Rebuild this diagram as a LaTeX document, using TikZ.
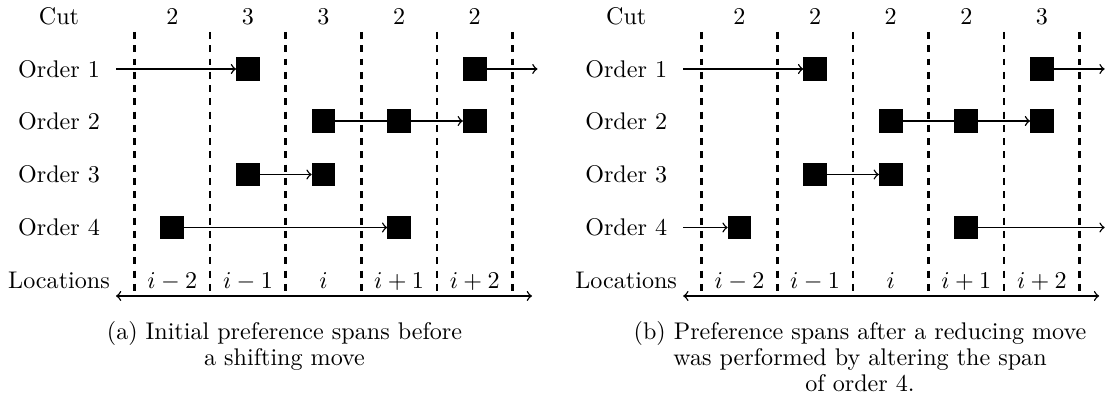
\documentclass[tikz,border=0pt]{standalone}
\begin{document}
\begin{tikzpicture}[x=0.415pt,y=-0.415pt,
  lbl/.style={font=\fontsize{10}{12}\selectfont, inner sep=0pt, anchor=base},
  captext/.style={font=\fontsize{10}{10.8}\selectfont, inner sep=0pt, anchor=north, align=center},
  blk/.style={fill=black, draw=black, minimum size=9.4pt, inner sep=0pt},
  cutline/.style={line width=1.1pt, dash pattern=on 2.9pt off 2.6pt},
  span/.style={->, line width=0.6pt},
  axisline/.style={<->, line width=0.6pt}]
\useasboundingbox (0,0) rectangle (1114,404);

% common frame of both panels
\foreach \p/\sh in {a/0, b/567.2}{
  \begin{scope}[shift={(\sh,0)}]
    \node[lbl] (\p-cut) at (59,25) {Cut};
    \foreach \r/\ry in {1/69, 2/121, 3/174.5, 4/227.5}{
      \node[lbl] (\p-ord\r) at (59,\ry+8.3) {Order \r};
    }
    \node[lbl] (\p-loc) at (59,289) {Locations};
    \foreach \k in {0,...,5}{
      \coordinate (\p-t\k) at (134.5+75.6*\k,32);
      \coordinate (\p-b\k) at (134.5+75.6*\k,296);
      \draw[cutline] (\p-t\k) -- (\p-b\k);
    }
    \foreach \k/\t in {1/i-2, 2/i-1, 3/i, 4/i+1, 5/i+2}{
      \node[lbl] (\p-l\k) at (134.5+75.6*\k-37.8,289) {$\t$};
    }
    \coordinate (\p-axl) at (116,296);
    \coordinate (\p-axr) at (532,296);
    \draw[axisline] (\p-axl) -- (\p-axr);
    \coordinate (\p-in1) at (116,69);
    \coordinate (\p-out1) at (537.5,69);
    \coordinate (\p-in4) at (116,227.5);
    \coordinate (\p-out4) at (537.5,227.5);
  \end{scope}
}

% cut values
\foreach \k/\v in {1/2, 2/3, 3/3, 4/2, 5/2}{
  \node[lbl] (a-c\k) at (134.5+75.6*\k-37.8,25) {\v};
}
\foreach \k/\v in {1/2, 2/2, 3/2, 4/2, 5/3}{
  \node[lbl] (b-c\k) at (567.2+134.5+75.6*\k-37.8,25) {\v};
}

% ---------- panel (a) ----------
\node[blk] (a-o1s1) at (247.9,69) {};
\node[blk] (a-o1s2) at (474.7,69) {};
\draw[span] (a-in1) -- (a-o1s1);
\draw[span] (a-o1s2) -- (a-out1);

\node[blk] (a-o2s1) at (323.5,121) {};
\node[blk] (a-o2s3) at (474.7,121) {};
\draw[span] (a-o2s1) -- (a-o2s3);
\node[blk] (a-o2s2) at (399.1,121) {};

\node[blk] (a-o3s1) at (247.9,174.5) {};
\node[blk] (a-o3s2) at (323.5,174.5) {};
\draw[span] (a-o3s1) -- (a-o3s2);

\node[blk] (a-o4s1) at (172.3,227.5) {};
\node[blk] (a-o4s2) at (399.1,227.5) {};
\draw[span] (a-o4s1) -- (a-o4s2);

% ---------- panel (b) ----------
\node[blk] (b-o1s1) at (815.1,69) {};
\node[blk] (b-o1s2) at (1041.9,69) {};
\draw[span] (b-in1) -- (b-o1s1);
\draw[span] (b-o1s2) -- (b-out1);

\node[blk] (b-o2s1) at (890.7,121) {};
\node[blk] (b-o2s3) at (1041.9,121) {};
\draw[span] (b-o2s1) -- (b-o2s3);
\node[blk] (b-o2s2) at (966.3,121) {};

\node[blk] (b-o3s1) at (815.1,174.5) {};
\node[blk] (b-o3s2) at (890.7,174.5) {};
\draw[span] (b-o3s1) -- (b-o3s2);

\node[blk] (b-o4s1) at (739.5,227.5) {};
\node[blk] (b-o4s2) at (966.3,227.5) {};
\draw[span] (b-in4) -- (b-o4s1);
\draw[span] (b-o4s2) -- (b-out4);

% captions
\node[captext] (capa) at (284.5,321) {(a) Initial preference spans before\\a shifting move};
\node[captext] (capb) at (860,321) {(b) Preference spans after a reducing move\\was performed by altering the span\\of order 4.};
\end{tikzpicture}
\end{document}
